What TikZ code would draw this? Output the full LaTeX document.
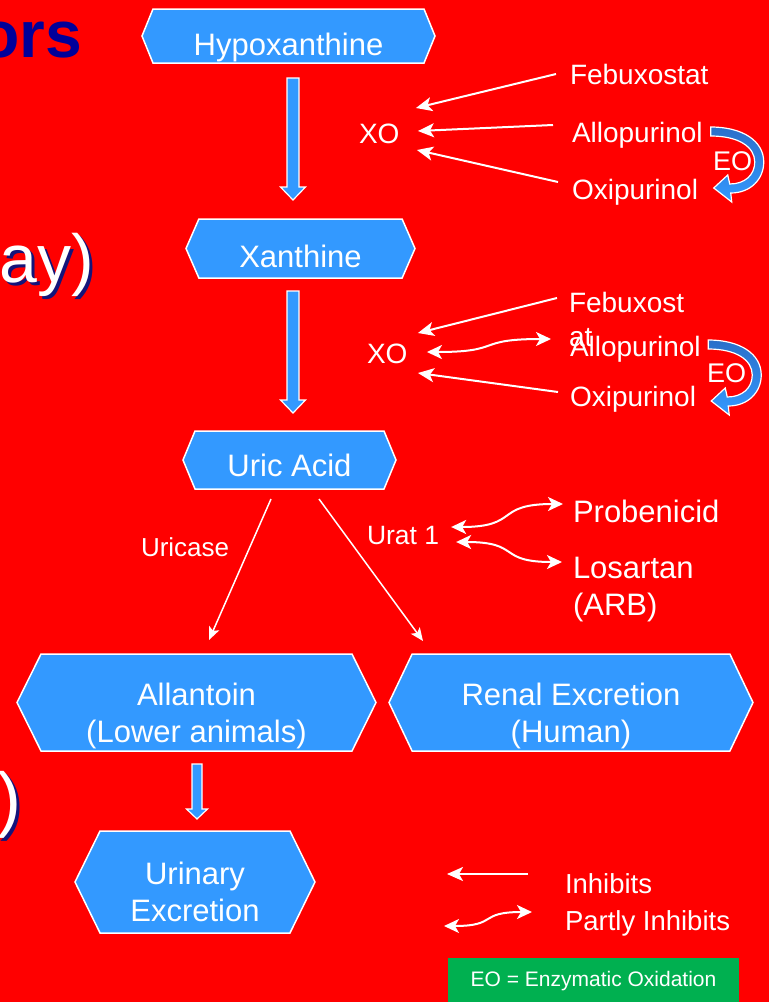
\documentclass[tikz,border=0pt]{standalone}
\usepackage{fontspec}
\setmainfont{Liberation Sans}
\usetikzlibrary{shapes.symbols,arrows.meta,calc}
\definecolor{bgred}{HTML}{FF0000}
\definecolor{hexblue}{HTML}{3399FF}
\definecolor{eodark}{HTML}{2A6FC9}
\definecolor{eogreen}{HTML}{00B050}
\definecolor{titleblue}{HTML}{00009A}
\definecolor{shadowblue}{HTML}{14147A}
\newcommand\hxt[2]{\smash{\raisebox{#1}{\begin{tabular}[t]{@{}c@{}}#2\end{tabular}}}}
\tikzset{
  hexa/.style={shape=signal, signal to=west and east, fill=hexblue, draw=white,
    line width=1.5pt, inner sep=0pt, outer sep=0pt, text=white,
    font=\fontsize{31}{37.5}\selectfont},
  lbl/.style={text=white, inner sep=0pt, outer sep=0pt, anchor=base west,
    font=\fontsize{28}{34}\selectfont},
  inh/.style={draw=white, line width=2pt, -{Stealth[length=16pt,width=14pt,inset=4pt]}},
  inhsmall/.style={draw=white, line width=1.5pt, -{Stealth[length=13pt,width=11pt,inset=3pt]}},
  partly/.style={draw=white, line width=2pt,
    {Stealth[length=15pt,width=14pt,inset=4pt]}-{Stealth[length=15pt,width=14pt,inset=4pt]}},
  blk/.style={fill=hexblue, draw=white, line width=1.2pt, line join=miter},
  eoarr/.pic={\path[draw=white, line width=1.2pt, top color=eodark, bottom color=hexblue]
    (0,0) .. controls (32,0) and (53,14) .. (53,35) .. controls (53,52) and (40,66) .. (20,66)
    -- (21,75) -- (3,61) -- (17,48) -- (19,57)
    .. controls (34,57) and (44,48) .. (44,35) .. controls (44,20) and (28,9) .. (0,9) -- cycle;}
}
\newcommand\blockarrow[5]{\draw[blk] ($(#1)+(-#3,0)$) -- ($(#2)+(-#3,-#5)$) -- ($(#2)+(-#4,-#5)$) -- (#2)
  -- ($(#2)+(#4,-#5)$) -- ($(#2)+(#3,-#5)$) -- ($(#1)+(#3,0)$) -- cycle;}
\newcommand\partlyarrow[2]{\draw[partly] let \p1=(#1), \p2=(#2) in
  (\p1) .. controls ({\x1+0.62*(\x2-\x1)},\y1) and ({\x1+0.38*(\x2-\x1)},\y2) .. (\p2);}
\begin{document}
\begin{tikzpicture}[x=1pt,y=-1pt]
\useasboundingbox (0,0) rectangle (769,1002);
\fill[bgred] (0,0) rectangle (769,1002);

% remnants of slide text at the left edge
\node[anchor=base east, inner sep=0pt, text=titleblue, font=\fontsize{66}{70}\selectfont\bfseries] (ttl) at (82,57) {ors};
\node[anchor=base east, inner sep=0pt, text=shadowblue, font=\fontsize{68}{72}\selectfont] (ayshadow) at (97,285) {ay)};
\node[anchor=base east, inner sep=0pt, text=white, font=\fontsize{68}{72}\selectfont] (ay) at (94,282) {ay)};
\node[anchor=base east, inner sep=0pt, text=shadowblue, font=\fontsize{72}{76}\selectfont] (parshadow) at (25,826) {)};
\node[anchor=base east, inner sep=0pt, text=white, font=\fontsize{72}{76}\selectfont] (par) at (22,823) {)};

% hexagon boxes
\node[hexa, minimum width=293, minimum height=54, signal pointer angle=135.7] (hypo) at (288.5,36) {\hxt{-19pt}{Hypoxanthine}};
\node[hexa, minimum width=229, minimum height=59, signal pointer angle=132.8] (xan) at (300.5,248.5) {\hxt{-18.5pt}{Xanthine}};
\node[hexa, minimum width=213, minimum height=58, signal pointer angle=135] (uric) at (289.5,460) {\hxt{-16pt}{Uric Acid}};
\node[hexa, minimum width=359, minimum height=97, signal pointer angle=127.3] (allan) at (196.5,702.5) {\hxt{-2.5pt}{Allantoin\\(Lower animals)}};
\node[hexa, minimum width=364, minimum height=97, signal pointer angle=129] (renal) at (571,702.5) {\hxt{-2.5pt}{Renal Excretion\\(Human)}};
\node[hexa, minimum width=240, minimum height=102, signal pointer angle=127.7] (urin) at (195,882) {\hxt{-2pt}{Urinary\\Excretion}};

% block arrows
\coordinate (a1s) at ($(hypo.south)+(4.5,15)$);
\coordinate (a1e) at ($(xan.north)+(-7.5,-19)$);
\coordinate (a2s) at ($(xan.south)+(-7.5,13)$);
\coordinate (a2e) at ($(uric.north)+(3.5,-18)$);
\coordinate (a3s) at ($(allan.south)+(0.5,13)$);
\coordinate (a3e) at ($(urin.north)+(2,-12)$);
\blockarrow{a1s}{a1e}{6}{12.5}{13}
\blockarrow{a2s}{a2e}{6}{12.5}{13}
\blockarrow{a3s}{a3e}{5}{10.5}{10}

% labels
\node[lbl] (xo1) at (359,143) {XO};
\node[lbl] (febu1) at (570,84) {Febuxostat};
\node[lbl] (allo1) at (572,142) {Allopurinol};
\node[lbl] (oxi1) at (572,199) {Oxipurinol};
\node[lbl] (xo2) at (367,363) {XO};
\node[lbl] (febu2) at (569,312) {\begin{tabular}[t]{@{}l@{}}Febuxost\\at\end{tabular}};
\node[lbl] (allo2) at (570,356) {Allopurinol};
\node[lbl] (oxi2) at (570,406) {Oxipurinol};
\node[lbl, font=\fontsize{26.5}{32}\selectfont] (urat) at (367,544) {Urat 1};
\node[lbl, font=\fontsize{31}{37}\selectfont] (prob) at (573,522) {Probenicid};
\node[lbl, font=\fontsize{31}{37}\selectfont] (los) at (573,578) {\begin{tabular}[t]{@{}l@{}}Losartan\\(ARB)\end{tabular}};
\node[lbl, font=\fontsize{26}{31}\selectfont] (urica) at (141,556) {Uricase};
\node[lbl, font=\fontsize{27.5}{33}\selectfont] (inhl) at (565,893) {Inhibits};
\node[lbl, font=\fontsize{27.5}{33}\selectfont] (partl) at (565,930) {Partly Inhibits};
\node[fill=eogreen, text=white, inner sep=0pt, outer sep=0pt, anchor=north west,
  minimum width=291, minimum height=46, font=\fontsize{21}{25}\selectfont] (eonote) at (448,958) {EO = Enzymatic Oxidation};

% inhibition arrows, level 1
\draw[inh] ($(febu1.base west)+(-14,-10)$) -- ($(xo1.base east)+(16.5,-35)$);
\draw[inh] ($(allo1.base west)+(-19,-17)$) -- ($(xo1.base east)+(18.5,-12)$);
\draw[inh] ($(oxi1.base west)+(-14,-17)$) -- ($(xo1.base east)+(17.5,7)$);
% level 2
\draw[inh] ($(febu2.base west)+(-12,-14)$) -- ($(xo2.base east)+(10.5,-30)$);
\partlyarrow{$(xo2.base east)+(19.5,-11)$}{$(allo2.base west)+(-19,-17)$}
\draw[inh] ($(oxi2.base west)+(-12,-14)$) -- ($(xo2.base east)+(10.5,10)$);
% urat 1
\partlyarrow{$(urat.base east)+(12,-17)$}{$(prob.base west)+(-10,-18)$}
\partlyarrow{$(urat.base east)+(17,-2)$}{$(los.base west)+(-11,-16)$}
% uric acid branches
\draw[inhsmall] ($(uric.south)+(-18.5,10)$) -- ($(allan.north)+(12.5,-14)$);
\draw[inhsmall] ($(uric.south)+(29.5,10)$) -- ($(renal.north)+(-148,-13)$);

% enzymatic oxidation arrows
\pic at ($(allo1.base east)+(8,-15)$) {eoarr};
\pic at ($(allo2.base east)+(7.5,-16)$) {eoarr};
\node[lbl, font=\fontsize{27}{32}\selectfont] (eo1) at (713,170) {EO};
\node[lbl, font=\fontsize{27}{32}\selectfont] (eo2) at (707,382) {EO};

% legend
\coordinate (lga) at (528,874);
\coordinate (lgb) at (447,874);
\coordinate (lgc) at (444,926);
\coordinate (lgd) at (532,912);
\draw[inh] (lga) -- (lgb);
\partlyarrow{lgc}{lgd}
\end{tikzpicture}
\end{document}
